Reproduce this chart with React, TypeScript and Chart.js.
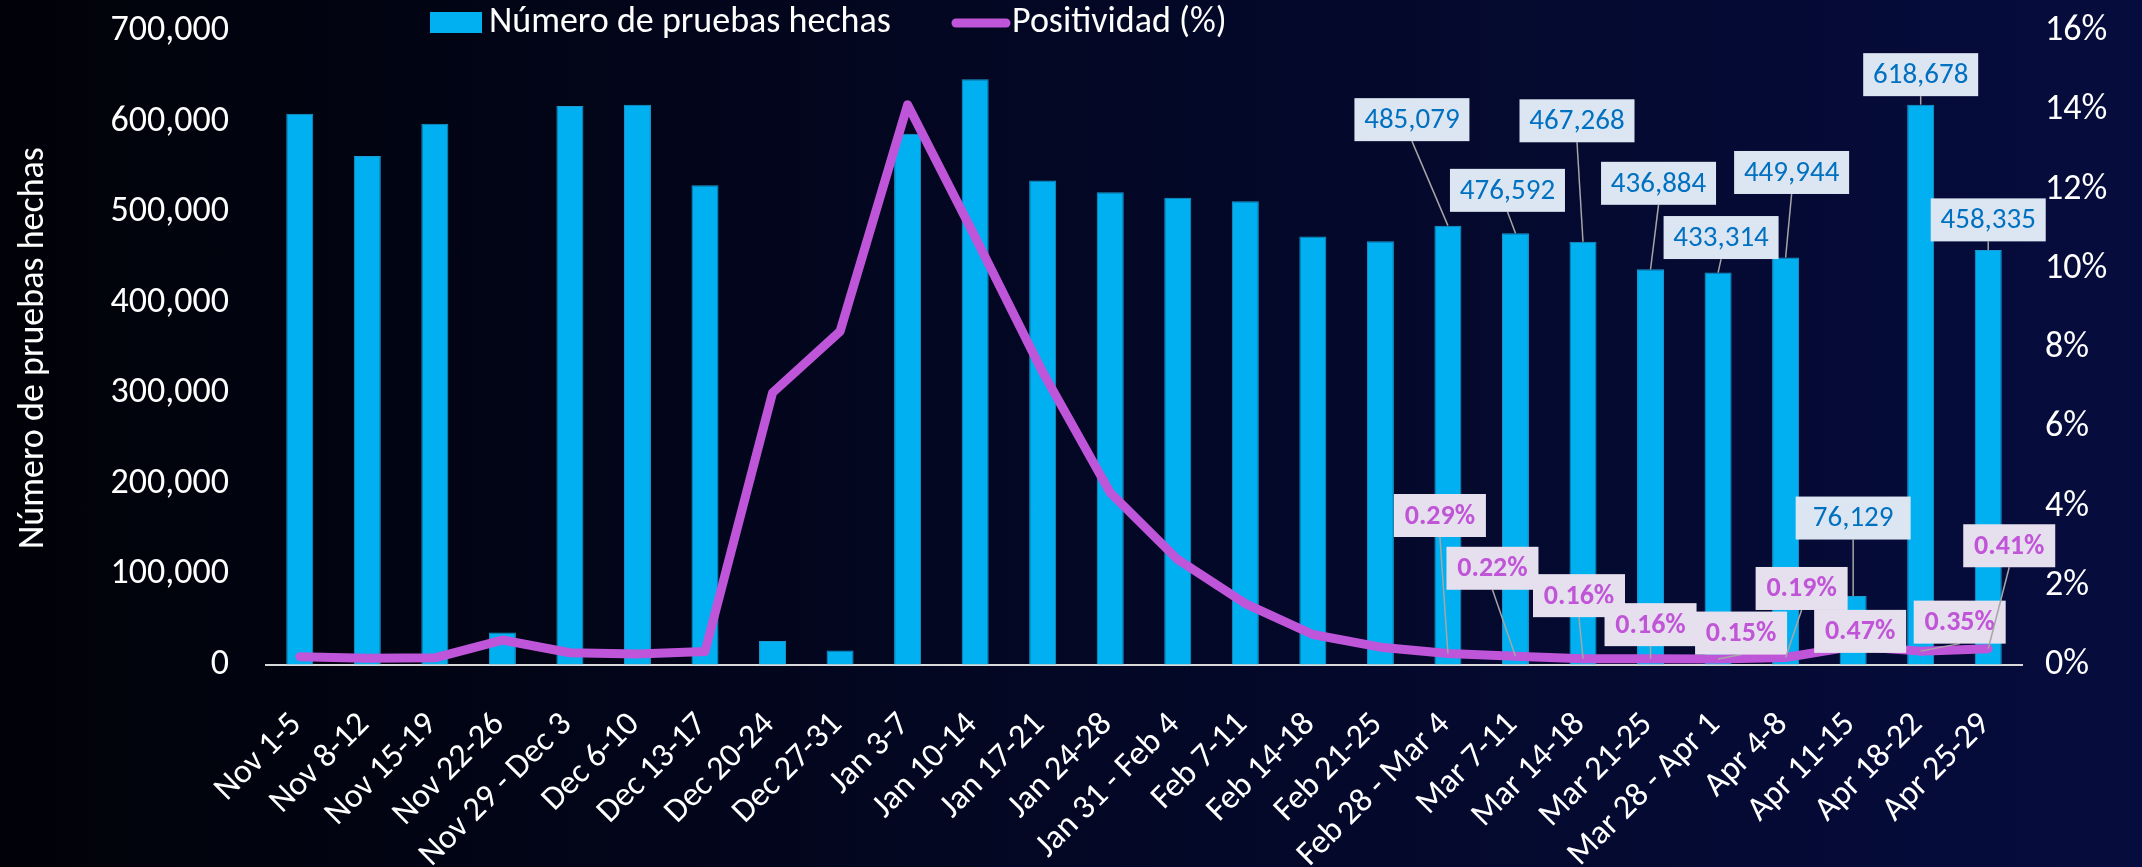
import React, { useEffect, useRef } from "react";
import { Chart, registerables } from "chart.js";

Chart.register(...registerables);

const categories = [
  "Nov 1-5", "Nov 8-12", "Nov 15-19", "Nov 22-26", "Nov 29 - Dec 3", "Dec 6-10",
  "Dec 13-17", "Dec 20-24", "Dec 27-31", "Jan 3-7", "Jan 10-14", "Jan 17-21",
  "Jan 24-28", "Jan 31 - Feb 4", "Feb 7-11", "Feb 14-18", "Feb 21-25", "Feb 28 - Mar 4",
  "Mar 7-11", "Mar 14-18", "Mar 21-25", "Mar 28 - Apr 1", "Apr 4-8", "Apr 11-15",
  "Apr 18-22", "Apr 25-29",
];

const testsDone = [
  608500, 562000, 597500, 36000, 617300, 618500, 529600, 26500, 16000, 586500,
  646700, 535000, 522000, 516000, 512000, 473000, 468000, 485079, 476592, 467268,
  436884, 433314, 449944, 76129, 618678, 458335,
];

const positivity = [
  0.21, 0.17, 0.18, 0.63, 0.31, 0.28, 0.34, 6.87, 8.42, 14.14, 10.8, 7.39, 4.35,
  2.66, 1.55, 0.77, 0.45, 0.29, 0.22, 0.16, 0.16, 0.15, 0.19, 0.47, 0.35, 0.41,
];

const leftTicks = [0, 100000, 200000, 300000, 400000, 500000, 600000, 700000];
const rightTicks = [0, 2, 4, 6, 8, 10, 12, 14, 16];

const seriesNames = ["Número de pruebas hechas", "Positividad (%)"];

// indices of points that carry a data callout
const labeledIdx = [17, 18, 19, 20, 21, 22, 23, 24, 25];
// callout placement offsets (box centre relative to the point), px
const barLabelDX = [-36, -8, -6, 8, 3, 6, 0, 0, 0];
const barLabelDY = [-106, -43, -121, -86, -35, -85, -78, -30, -30];
const lineLabelDX = [-8, -23, -4, 0, 23, 16, 7, 39, 21];
const lineLabelDY = [-138, -88, -63, -34, -26, -69, -15, -29, -103];

const FONT = "Carlito, 'Liberation Sans Narrow', 'Open Sans', sans-serif";
const BAR_COLOR = "#00b0f0";
const LINE_COLOR = "#bf55d9";

const calloutPlugin = {
  id: "callouts",
  afterDatasetsDraw(chart: any) {
    const ctx = chart.ctx;
    const barMeta = chart.getDatasetMeta(0);
    const lineMeta = chart.getDatasetMeta(1);
    const drawBox = (
      px: number, py: number, cx: number, cy: number, w: number, h: number,
      text: string, bg: string, fg: string, font: string
    ) => {
      const top = cy - h / 2;
      const bottom = cy + h / 2;
      const inside = py >= top && py <= bottom && px >= cx - w / 2 && px <= cx + w / 2;
      if (!inside) {
        ctx.save();
        ctx.strokeStyle = "#a6a6a6";
        ctx.lineWidth = 1.5;
        ctx.beginPath();
        if (py > bottom) ctx.moveTo(cx, bottom);
        else ctx.moveTo(cx, top);
        ctx.lineTo(px, py);
        ctx.stroke();
        ctx.restore();
      }
      ctx.save();
      ctx.fillStyle = bg;
      ctx.fillRect(cx - w / 2, top, w, h);
      ctx.fillStyle = fg;
      ctx.font = font;
      ctx.textAlign = "center";
      ctx.textBaseline = "middle";
      ctx.fillText(text, cx, cy + 1);
      ctx.restore();
    };
    labeledIdx.forEach((i, k) => {
      const b = barMeta.data[i];
      drawBox(b.x, b.y, b.x + barLabelDX[k], b.y + barLabelDY[k], 115, 43,
        testsDone[i].toLocaleString("en-US"), "#dce6f2", "#0070c0", `29px ${FONT}`);
    });
    labeledIdx.forEach((i, k) => {
      const p = lineMeta.data[i];
      drawBox(p.x, p.y, p.x + lineLabelDX[k], p.y + lineLabelDY[k], 92, 43,
        positivity[i].toFixed(2) + "%", "#e6e0ee", "#c055d8", `bold 28px ${FONT}`);
    });
  },
  afterDraw(chart: any) {
    const ctx = chart.ctx;
    ctx.save();
    ctx.font = `36px ${FONT}`;
    ctx.textBaseline = "middle";
    ctx.textAlign = "left";
    ctx.fillStyle = BAR_COLOR;
    ctx.fillRect(430, 12, 52, 21);
    ctx.fillStyle = "#ffffff";
    ctx.fillText(chart.data.datasets[0].label, 489, 23);
    ctx.strokeStyle = LINE_COLOR;
    ctx.lineWidth = 9;
    ctx.lineCap = "round";
    ctx.beginPath();
    ctx.moveTo(956, 23);
    ctx.lineTo(1006, 23);
    ctx.stroke();
    ctx.fillText(chart.data.datasets[1].label, 1012, 23);
    ctx.restore();
  },
};

export default function App() {
  const ref = useRef<HTMLCanvasElement | null>(null);
  useEffect(() => {
    document.body.style.margin = "0";
    if (!ref.current) return;
    const chart = new Chart(ref.current, {
      type: "bar",
      data: {
        labels: categories,
        datasets: [
          {
            type: "bar",
            label: seriesNames[0],
            data: testsDone,
            backgroundColor: BAR_COLOR,
            borderColor: "#1a9ad0",
            borderWidth: 1,
            barPercentage: 0.4,
            categoryPercentage: 1,
            yAxisID: "y",
            order: 2,
          },
          {
            type: "line",
            label: seriesNames[1],
            data: positivity,
            borderColor: LINE_COLOR,
            backgroundColor: LINE_COLOR,
            borderWidth: 9,
            borderCapStyle: "round",
            borderJoinStyle: "round",
            pointRadius: 0,
            tension: 0,
            yAxisID: "y1",
            order: 1,
          },
        ] as any,
      },
      options: {
        responsive: false,
        animation: false,
        layout: { padding: { top: 31, left: 0, right: 0, bottom: 0 } },
        plugins: { legend: { display: false }, tooltip: { enabled: false } },
        scales: {
          x: {
            grid: { display: false, drawTicks: false },
            border: { display: true, color: "#d9d9d9", width: 2 },
            ticks: {
              color: "#ffffff",
              font: { family: FONT, size: 34 },
              maxRotation: 45,
              minRotation: 45,
              autoSkip: false,
              padding: 40,
              labelOffset: -3,
            },
            afterFit: (s: any) => { s.height = 202; },
          },
          y: {
            position: "left",
            min: leftTicks[0],
            max: leftTicks[leftTicks.length - 1],
            grid: {
              display: true,
              drawOnChartArea: false,
              drawTicks: true,
              tickLength: 35,
              color: "rgba(0,0,0,0)",
            },
            border: { display: false },
            afterBuildTicks: (s: any) => { s.ticks = leftTicks.map((v) => ({ value: v })); },
            ticks: {
              color: "#ffffff",
              font: { family: FONT, size: 36 },
              padding: 2,
              callback: (v: any) => Number(v).toLocaleString("en-US"),
            },
            title: {
              display: true,
              text: "Número de pruebas hechas",
              color: "#ffffff",
              font: { family: FONT, size: 36 },
              padding: { top: 12, bottom: 0 },
            },
            afterFit: (s: any) => { s.width = 266; },
          },
          y1: {
            position: "right",
            min: rightTicks[0],
            max: rightTicks[rightTicks.length - 1],
            grid: {
              display: true,
              drawOnChartArea: false,
              drawTicks: true,
              tickLength: 21,
              color: "rgba(0,0,0,0)",
            },
            border: { display: false },
            afterBuildTicks: (s: any) => { s.ticks = rightTicks.map((v) => ({ value: v })); },
            ticks: {
              color: "#ffffff",
              font: { family: FONT, size: 36 },
              padding: 2,
              callback: (v: any) => `${v}%`,
            },
            afterFit: (s: any) => { s.width = 120; },
          },
        },
      } as any,
      plugins: [calloutPlugin],
    });
    return () => chart.destroy();
  }, []);

  return (
    <div
      style={{
        position: "fixed",
        left: 0,
        top: 0,
        width: 2142,
        height: 867,
        background: "linear-gradient(90deg, #010208 0%, #030722 45%, #060c3d 100%)",
      }}
    >
      <canvas ref={ref} width={2142} height={867} style={{ width: 2142, height: 867, display: "block" }} />
    </div>
  );
}
